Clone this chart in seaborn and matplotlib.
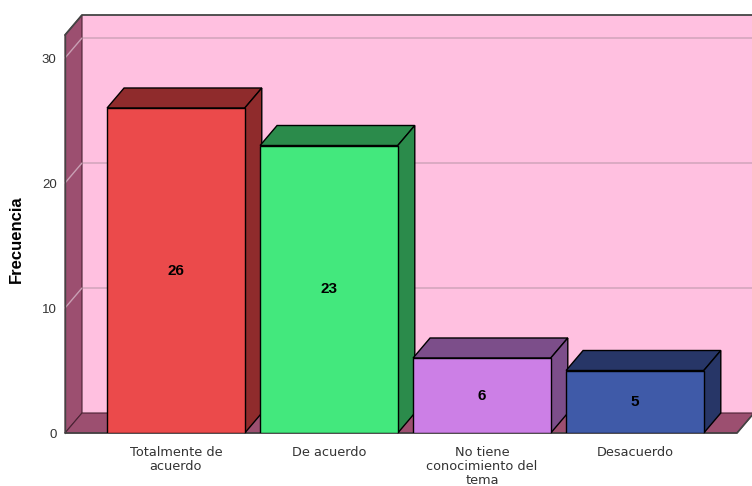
import matplotlib
matplotlib.use("Agg")
import matplotlib.pyplot as plt
import matplotlib.transforms as mtransforms
from matplotlib.patches import Polygon
import seaborn as sns

# data
categories = ["Totalmente de\nacuerdo", "De acuerdo", "No tiene\nconocimiento del\ntema", "Desacuerdo"]
values = [26, 23, 6, 5]
y_ticks = [0, 10, 20, 30]

# colours (front face / top+side face)
front_colors = ["#EB4A4B", "#43E87D", "#CC7FE6", "#3F5AA8"]
side_colors = ["#8F2B2C", "#2B8B4B", "#7C4E8A", "#273667"]
wall_color = "#9C4F70"
back_color = "#FFC0E0"

sns.set_style("white")
plt.rcParams["font.family"] = ["Liberation Sans", "DejaVu Sans"]

W, H = 752, 486
fig = plt.figure(figsize=(W / 100, H / 100), dpi=100)
ax = fig.add_axes([65 / W, 1 - 433 / H, (737 - 65) / W, (433 - 35) / H])

sns.barplot(x=categories, y=values, hue=categories, palette=front_colors,
            saturation=1, width=0.9, edgecolor="black", linewidth=1.0,
            legend=False, ax=ax, zorder=3)

ax.set_xlim(-0.725, 3.667)
ax.set_ylim(0, 31.84)
ax.patch.set_visible(False)
for s in ax.spines.values():
    s.set_visible(False)

ident = mtransforms.IdentityTransform()
dx, dy = 17, 20  # depth in pixels


def disp(x, y):
    return ax.transData.transform((x, y))


x0, y0 = ax.transAxes.transform((0, 0))
x1, y1 = ax.transAxes.transform((1, 1))
right_edge = W + 20

# back wall
ax.add_patch(Polygon([(x0 + dx, y0 + dy), (right_edge, y0 + dy), (right_edge, y1 + dy), (x0 + dx, y1 + dy)],
                     closed=True, facecolor=back_color, edgecolor="none",
                     transform=ident, clip_on=False, zorder=0))
# left wall
ax.add_patch(Polygon([(x0, y0), (x0 + dx, y0 + dy), (x0 + dx, y1 + dy), (x0, y1)],
                     closed=True, facecolor=wall_color, edgecolor="#4a2233", linewidth=0.8,
                     transform=ident, clip_on=False, zorder=1))
# floor
ax.add_patch(Polygon([(x0, y0), (x1, y0), (x1 + dx, y0 + dy), (x0 + dx, y0 + dy)],
                     closed=True, facecolor=wall_color, edgecolor="#4a2233", linewidth=0.8,
                     transform=ident, clip_on=False, zorder=1))

# grid lines on back wall and left wall
for t in y_ticks[1:]:
    _, yt = disp(0, t)
    ax.plot([x0 + dx, right_edge], [yt + dy, yt + dy], color="#D4A6BE", lw=1.2,
            transform=ident, clip_on=False, zorder=0.5)
    ax.plot([x0, x0 + dx], [yt, yt + dy], color="#C9A0B4", lw=1.0,
            transform=ident, clip_on=False, zorder=1.5)

# frame lines
ax.plot([x0, x0 + dx, right_edge], [y1, y1 + dy, y1 + dy], color="#444444", lw=1.3,
        transform=ident, clip_on=False, zorder=1.6)
ax.plot([x0, x0], [y0, y1], color="#444444", lw=1.0, transform=ident, clip_on=False, zorder=1.6)
ax.plot([x0, x1, x1 + dx], [y0, y0, y0 + dy], color="#444444", lw=1.2,
        transform=ident, clip_on=False, zorder=1.6)

# 3D top and side faces of each bar
for bar, c in zip(ax.patches, side_colors):
    bx0 = bar.get_x()
    bx1 = bx0 + bar.get_width()
    h = bar.get_height()
    (px0, py0), (px1, ph) = disp(bx0, 0), disp(bx1, h)
    top = [(px0, ph), (px1, ph), (px1 + dx, ph + dy), (px0 + dx, ph + dy)]
    side = [(px1, py0), (px1 + dx, py0 + dy), (px1 + dx, ph + dy), (px1, ph)]
    for poly in (top, side):
        ax.add_patch(Polygon(poly, closed=True, facecolor=c, edgecolor="black",
                             linewidth=1.0, transform=ident, clip_on=False, zorder=2))

for cont in ax.containers:
    ax.bar_label(cont, label_type="center", fontweight="bold", fontsize=11, color="black")

ax.set_yticks(y_ticks)
ax.tick_params(axis="both", length=0, colors="#333333")
ax.tick_params(axis="y", pad=6, labelsize=9.5)
ax.tick_params(axis="x", pad=9)
for lbl in ax.get_xticklabels():
    lbl.set_fontfamily("DejaVu Sans")
    lbl.set_fontsize(9.3)
    lbl.set_linespacing(1.1)
ax.set_xlabel("")
ax.set_ylabel("")
fig.text(16 / W, 1 - 239 / H, "Frecuencia", rotation=90, ha="center", va="center",
         fontsize=12, fontweight="bold", color="black")

fig.savefig("out.png", dpi=100, facecolor="white")
